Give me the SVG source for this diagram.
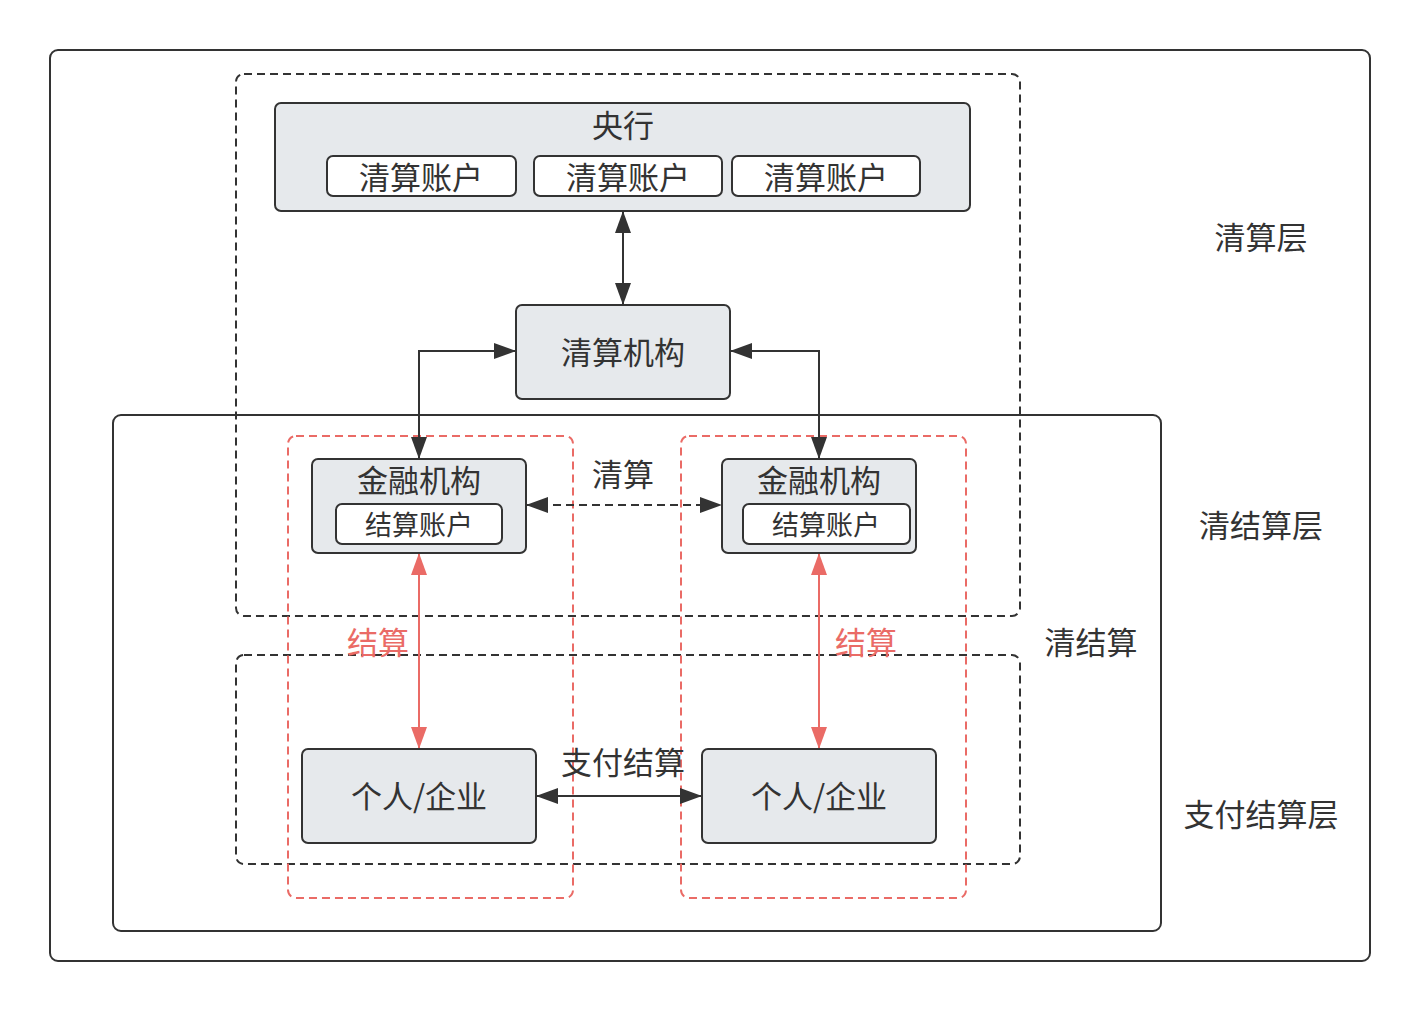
<svg xmlns="http://www.w3.org/2000/svg" width="1420" height="1011" viewBox="0 0 1420 1011">
<style>
text{font-family:"Noto Sans CJK SC","Liberation Sans",sans-serif;fill:#333;text-anchor:middle;dominant-baseline:central}
.frame{fill:none;stroke:#333;stroke-width:2}
.dash{fill:none;stroke:#333;stroke-width:2;stroke-dasharray:8 5}
.rdash{fill:none;stroke:#ea6b66;stroke-width:2;stroke-dasharray:8 5}
.node{fill:#e6e9ec;stroke:#333;stroke-width:2}
.sub{fill:#fff;stroke:#333;stroke-width:2}
.c{fill:none;stroke:#333;stroke-width:2}
.cr{fill:none;stroke:#ea6b66;stroke-width:2}
.red{fill:#ea6b66}
</style>
<defs>
<marker id="a" viewBox="0 0 22 16" refX="21" refY="8" markerWidth="22" markerHeight="16" markerUnits="userSpaceOnUse" orient="auto-start-reverse"><path d="M0,0 L22,8 L0,16 z" fill="#333"/></marker>
<marker id="ar" viewBox="0 0 22 16" refX="21" refY="8" markerWidth="22" markerHeight="16" markerUnits="userSpaceOnUse" orient="auto-start-reverse"><path d="M0,0 L22,8 L0,16 z" fill="#ea6b66"/></marker>
</defs>
<rect width="1420" height="1011" fill="#fff"/>
<g id="frames">
<rect class="frame" x="50" y="50" width="1320" height="911" rx="8"/>
<rect class="frame" x="113" y="415" width="1048" height="516" rx="8"/>
<rect class="dash" x="236" y="74" width="784" height="542" rx="8"/>
<rect class="dash" x="236" y="655" width="784" height="209" rx="8"/>
<rect class="rdash" x="288" y="436" width="285" height="462" rx="8"/>
<rect class="rdash" x="681" y="436" width="285" height="462" rx="8"/>
</g>
<g id="labels">
<text x="1261" y="235" font-size="31">清算层</text>
<text x="1261" y="523" font-size="31">清结算层</text>
<text x="1091" y="640" font-size="31">清结算</text>
<text x="1261" y="812" font-size="31">支付结算层</text>
</g>
<g id="connectors">
<path class="c" d="M623,212 V304" marker-start="url(#a)" marker-end="url(#a)"/>
<path class="c" d="M515,351 H419 V458" marker-start="url(#a)" marker-end="url(#a)"/>
<path class="c" d="M731,351 H819 V458" marker-start="url(#a)" marker-end="url(#a)"/>
<path class="c" d="M527,505 H721" stroke-dasharray="8 5" marker-start="url(#a)" marker-end="url(#a)"/>
<path class="cr" d="M419,554 V748" marker-start="url(#ar)" marker-end="url(#ar)"/>
<path class="cr" d="M819,554 V748" marker-start="url(#ar)" marker-end="url(#ar)"/>
<path class="c" d="M537,796 H701" marker-start="url(#a)" marker-end="url(#a)"/>
<text x="623" y="472" font-size="31">清算</text>
<text x="378" y="640" font-size="31" class="red">结算</text>
<text x="866" y="640" font-size="31" class="red">结算</text>
<text x="623" y="760" font-size="31">支付结算</text>
</g>
<g id="central-bank">
<rect class="node" x="275" y="103" width="695" height="108" rx="6"/>
<text x="623" y="123" font-size="31">央行</text>
<rect class="sub" x="327" y="156" width="189" height="40" rx="6"/>
<text x="421" y="175" font-size="31">清算账户</text>
<rect class="sub" x="534" y="156" width="188" height="40" rx="6"/>
<text x="628" y="175" font-size="31">清算账户</text>
<rect class="sub" x="732" y="156" width="188" height="40" rx="6"/>
<text x="826" y="175" font-size="31">清算账户</text>
</g>
<g id="clearing-house">
<rect class="node" x="516" y="305" width="214" height="94" rx="6"/>
<text x="623" y="350" font-size="31">清算机构</text>
</g>
<g id="fi-left">
<rect class="node" x="312" y="459" width="214" height="94" rx="6"/>
<text x="419" y="478" font-size="31">金融机构</text>
<rect class="sub" x="336" y="504" width="166" height="40" rx="6"/>
<text x="419" y="523" font-size="27">结算账户</text>
</g>
<g id="fi-right">
<rect class="node" x="722" y="459" width="194" height="94" rx="6"/>
<text x="819" y="478" font-size="31">金融机构</text>
<rect class="sub" x="743" y="504" width="167" height="40" rx="6"/>
<text x="826" y="523" font-size="27">结算账户</text>
</g>
<g id="user-left">
<rect class="node" x="302" y="749" width="234" height="94" rx="6"/>
<text x="419" y="794" font-size="31">个人/企业</text>
</g>
<g id="user-right">
<rect class="node" x="702" y="749" width="234" height="94" rx="6"/>
<text x="819" y="794" font-size="31">个人/企业</text>
</g>
</svg>
